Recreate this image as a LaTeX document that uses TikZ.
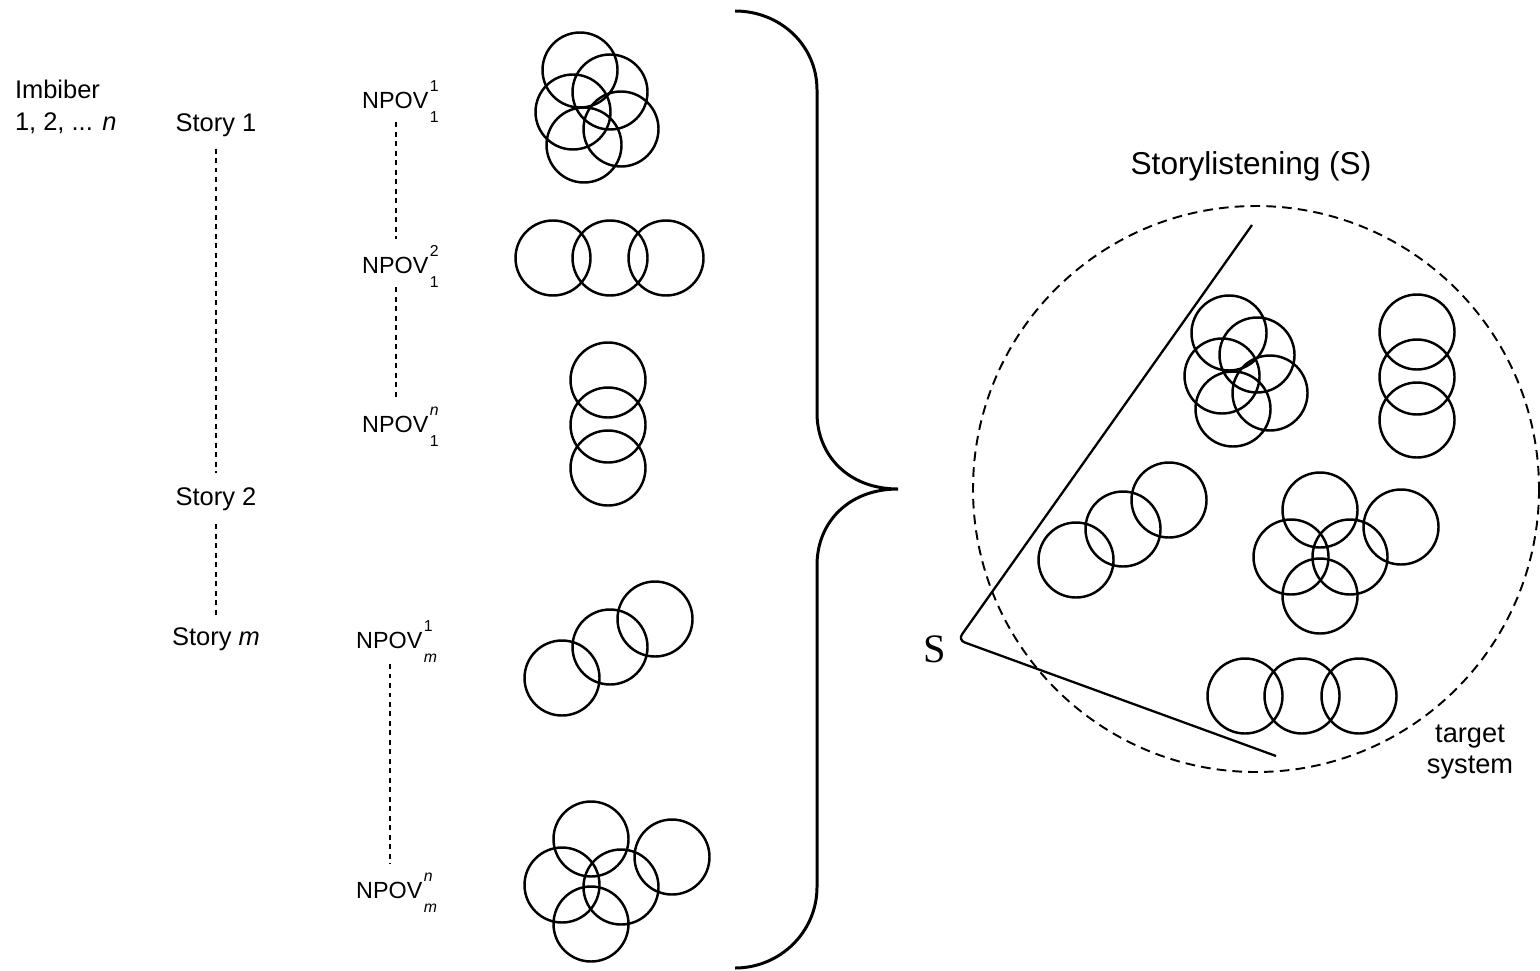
\documentclass[tikz,border=0pt]{standalone}
\usepackage{fontspec}
\setmainfont{Liberation Sans}
\newfontfamily\serifS{Liberation Serif}
\newcommand{\scr}[1]{{\fontsize{9}{9}\selectfont #1}}
\newcommand{\npov}[2]{NPOV\smash{\kern0.8pt\rlap{\raisebox{9.5pt}{\scr{#1}}}\rlap{\raisebox{-8pt}{\scr{#2}}}}}
\tikzset{
  ring/.style={line width=1.4pt},
  lbl/.style={inner sep=0pt, outer sep=0pt, anchor=base, font=\fontsize{14.5}{18}\selectfont},
  nlbl/.style={inner sep=0pt, outer sep=0pt, anchor=base, font=\fontsize{13.3}{15}\selectfont},
  dline/.style={line width=1.1pt, dash pattern=on 2.8pt off 2.6pt},
  scircle/.style={line width=1.1pt, dash pattern=on 5.5pt off 3.5pt},
  wedge/.style={line width=1.3pt, rounded corners=4pt},
  brace/.style={line width=1.7pt}
}
\begin{document}
\begin{tikzpicture}[x=0.02cm,y=-0.02cm]
\useasboundingbox (0,0) rectangle (1540,970);

% left labels
\node[lbl, anchor=base west, align=left] (imb) at (15,130) {Imbiber\\1, 2, ... \textit{n}};
\node[lbl] (s1) at (216,131) {Story 1};
\node[lbl] (s2) at (216,505) {Story 2};
\node[lbl] (sm) at (216,645) {Story \textit{m}};
\draw[dline, shorten <=7pt, shorten >=8pt] (s1) -- (s2);
\draw[dline, shorten <=8pt, shorten >=6pt] (s2) -- (sm);

\node[nlbl] (n11) at (396,108) {\npov{1}{1}};
\node[nlbl] (n12) at (396,273) {\npov{2}{1}};
\node[nlbl] (n1n) at (396,432) {\npov{\textit{n}}{1}};
\node[nlbl] (nm1) at (390,648) {\npov{1}{\textit{m}}};
\node[nlbl] (nmn) at (390,898) {\npov{\textit{n}}{\textit{m}}};
\draw[dline, shorten <=8pt, shorten >=10pt] (n11) -- (n12);
\draw[dline, shorten <=8pt, shorten >=10pt] (n12) -- (n1n);
\draw[dline, shorten <=9pt, shorten >=10pt] (nm1) -- (nmn);

% left circle groups
\foreach \p in {(580,70),(610,92),(573,112),(621,129),(584,145)} \draw[ring] \p circle[radius=37.5];
\foreach \p in {(553,258),(610,258),(666,258)} \draw[ring] \p circle[radius=37.5];
\foreach \p in {(608,380),(608,425),(608,468)} \draw[ring] \p circle[radius=37.5];
\foreach \p in {(562,678),(610,647),(655,619)} \draw[ring] \p circle[radius=37.5];
\foreach \p in {(591,839),(672,857),(562,885),(621,887),(591,924)} \draw[ring] \p circle[radius=37.5];

% brace
\draw[brace] (735,11) .. controls (780,11) and (817,45) .. (817,90)
  -- (817,413) .. controls (817,455) and (848,489) .. (898,489)
  .. controls (848,489) and (817,523) .. (817,565)
  -- (817,887) .. controls (817,932) and (780,968) .. (735,968);

% right part
\node[inner sep=0pt, font=\fontsize{18}{22}\selectfont] (title) at (1251,166) {Storylistening (S)};
\draw[scircle] (1256,489) circle[radius=283];
\coordinate (uend) at (1252,225);
\coordinate (apex) at (958,640);
\coordinate (lend) at (1276,756);
\draw[wedge] (uend) -- (apex) -- (lend);
\node[inner sep=0pt, font=\serifS\fontsize{23}{23}\selectfont] (slabel) at (935,649) {S};
\node[inner sep=0pt, align=center, font=\fontsize{15.5}{18}\selectfont] (target) at (1470,752) {target\\system};

\foreach \p in {(1229,333),(1257,355),(1222,376),(1270,393),(1233,409)} \draw[ring] \p circle[radius=37.5];
\foreach \p in {(1417,332),(1417,377),(1417,420)} \draw[ring] \p circle[radius=37.5];
\foreach \p in {(1076,560),(1123,529),(1169,500)} \draw[ring] \p circle[radius=37.5];
\foreach \p in {(1320,510),(1401,527),(1291,557),(1350,557),(1320,596)} \draw[ring] \p circle[radius=37.5];
\foreach \p in {(1245,696),(1302,696),(1359,696)} \draw[ring] \p circle[radius=37.5];
\end{tikzpicture}
\end{document}
